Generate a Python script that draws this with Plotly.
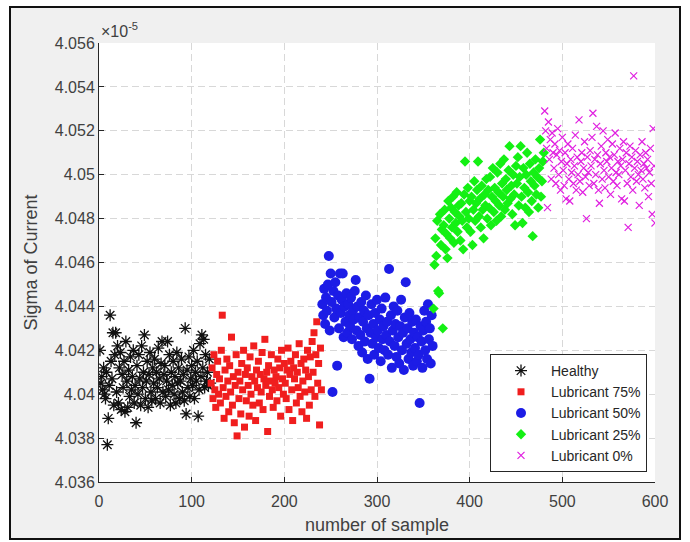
import plotly.graph_objects as go

# Sigma of motor current per sample, in units of 1e-5
healthy = [
    4.0420, 4.0405, 4.0408, 4.0402, 4.0412, 4.0400, 4.0398, 4.0410, 4.0377, 4.0389,
    4.0404, 4.0436, 4.0415, 4.0407, 4.0428, 4.0395, 4.0418, 4.0428, 4.0401, 4.0422,
    4.0396, 4.0412, 4.0419, 4.0393, 4.0409, 4.0403, 4.0415, 4.0392, 4.0424, 4.0406,
    4.0394, 4.0411, 4.0399, 4.0417, 4.0402, 4.0408, 4.0420, 4.0396, 4.0404, 4.0387,
    4.0413, 4.0400, 4.0418, 4.0407, 4.0395, 4.0422, 4.0403, 4.0410, 4.0427, 4.0398,
    4.0406, 4.0415, 4.0394, 4.0409, 4.0419, 4.0401, 4.0397, 4.0412, 4.0405, 4.0416,
    4.0398, 4.0410, 4.0403, 4.0421, 4.0407, 4.0396, 4.0414, 4.0424, 4.0401, 4.0409,
    4.0413, 4.0399, 4.0406, 4.0424, 4.0402, 4.0418, 4.0395, 4.0410, 4.0404, 4.0415,
    4.0400, 4.0408, 4.0396, 4.0419, 4.0405, 4.0412, 4.0398, 4.0406, 4.0416, 4.0401,
    4.0409, 4.0397, 4.0430, 4.0391, 4.0411, 4.0403, 4.0417, 4.0399, 4.0407, 4.0413,
    4.0404, 4.0420, 4.0398, 4.0410, 4.0406, 4.0415, 4.0390, 4.0402, 4.0423, 4.0408,
    4.0427, 4.0412, 4.0425, 4.0403, 4.0418, 4.0406, 4.0410, 4.0404, 4.0416, 4.0405,
]
lubricant_75 = [
    4.0405, 4.0412, 4.0398, 4.0418, 4.0402, 4.0394, 4.0409, 4.0415, 4.0400, 4.0407,
    4.0396, 4.0420, 4.0436, 4.0403, 4.0389, 4.0411, 4.0399, 4.0416, 4.0406, 4.0392,
    4.0413, 4.0401, 4.0426, 4.0395, 4.0408, 4.0387, 4.0404, 4.0418, 4.0381, 4.0410,
    4.0398, 4.0406, 4.0391, 4.0414, 4.0402, 4.0420, 4.0385, 4.0409, 4.0397, 4.0412,
    4.0404, 4.0390, 4.0417, 4.0400, 4.0408, 4.0395, 4.0422, 4.0406, 4.0388, 4.0411,
    4.0403, 4.0415, 4.0396, 4.0409, 4.0401, 4.0419, 4.0393, 4.0407, 4.0425, 4.0404,
    4.0410, 4.0383, 4.0413, 4.0399, 4.0406, 4.0418, 4.0402, 4.0394, 4.0411, 4.0405,
    4.0408, 4.0397, 4.0416, 4.0403, 4.0412, 4.0390, 4.0420, 4.0407, 4.0400, 4.0414,
    4.0405, 4.0398, 4.0411, 4.0421, 4.0393, 4.0409, 4.0415, 4.0402, 4.0388, 4.0412,
    4.0407, 4.0418, 4.0396, 4.0410, 4.0403, 4.0423, 4.0399, 4.0414, 4.0392, 4.0406,
    4.0416, 4.0401, 4.0411, 4.0389, 4.0420, 4.0408, 4.0395, 4.0417, 4.0402, 4.0424,
    4.0410, 4.0428, 4.0399, 4.0418, 4.0433, 4.0405, 4.0414, 4.0386, 4.0421, 4.0402,
]
lubricant_50 = [
    4.0441, 4.0436, 4.0448, 4.0432, 4.0444, 4.0438, 4.0450, 4.0463, 4.0429, 4.0455,
    4.0442, 4.0401, 4.0447, 4.0435, 4.0451, 4.0439, 4.0413, 4.0445, 4.0430, 4.0455,
    4.0437, 4.0443, 4.0455, 4.0426, 4.0440, 4.0433, 4.0446, 4.0428, 4.0441, 4.0436,
    4.0431, 4.0444, 4.0425, 4.0438, 4.0434, 4.0447, 4.0452, 4.0429, 4.0440, 4.0422,
    4.0435, 4.0427, 4.0442, 4.0419, 4.0433, 4.0438, 4.0424, 4.0445, 4.0430, 4.0416,
    4.0436, 4.0407, 4.0428, 4.0441, 4.0423, 4.0432, 4.0418, 4.0437, 4.0426, 4.0443,
    4.0429, 4.0421, 4.0434, 4.0415, 4.0439, 4.0425, 4.0431, 4.0420, 4.0444, 4.0427,
    4.0433, 4.0418, 4.0457, 4.0424, 4.0436, 4.0412, 4.0429, 4.0440, 4.0422, 4.0432,
    4.0417, 4.0438, 4.0426, 4.0414, 4.0431, 4.0443, 4.0420, 4.0428, 4.0411, 4.0435,
    4.0451, 4.0423, 4.0430, 4.0416, 4.0437, 4.0425, 4.0419, 4.0433, 4.0413, 4.0428,
    4.0421, 4.0434, 4.0415, 4.0426, 4.0418, 4.0396, 4.0431, 4.0424, 4.0412, 4.0429,
    4.0438, 4.0420, 4.0433, 4.0416, 4.0441, 4.0425, 4.0430, 4.0414, 4.0436, 4.0422,
]
lubricant_25 = [
    4.0439, 4.0459, 4.0471, 4.0463, 4.0479, 4.0447, 4.0446, 4.0482, 4.0468, 4.0475,
    4.0430, 4.0477, 4.0484, 4.0466, 4.0473, 4.0462, 4.0488, 4.0480, 4.0471, 4.0485,
    4.0476, 4.0490, 4.0469, 4.0483, 4.0478, 4.0492, 4.0474, 4.0486, 4.0481, 4.0470,
    4.0487, 4.0479, 4.0466, 4.0491, 4.0506, 4.0483, 4.0476, 4.0494, 4.0480, 4.0488,
    4.0474, 4.0490, 4.0468, 4.0484, 4.0497, 4.0479, 4.0487, 4.0493, 4.0506, 4.0481,
    4.0489, 4.0476, 4.0495, 4.0484, 4.0471, 4.0491, 4.0486, 4.0498, 4.0480, 4.0493,
    4.0485, 4.0499, 4.0477, 4.0490, 4.0503, 4.0483, 4.0494, 4.0488, 4.0479, 4.0501,
    4.0492, 4.0486, 4.0505, 4.0481, 4.0496, 4.0490, 4.0507, 4.0484, 4.0498, 4.0493,
    4.0487, 4.0502, 4.0513, 4.0489, 4.0495, 4.0482, 4.0500, 4.0491, 4.0477, 4.0504,
    4.0496, 4.0508, 4.0486, 4.0499, 4.0513, 4.0490, 4.0478, 4.0503, 4.0494, 4.0485,
    4.0500, 4.0510, 4.0492, 4.0483, 4.0505, 4.0497, 4.0488, 4.0472, 4.0501, 4.0495,
    4.0507, 4.0491, 4.0499, 4.0485, 4.0503, 4.0516, 4.0490, 4.0497, 4.0506, 4.0510,
]
lubricant_0 = [
    4.0529, 4.0520, 4.0512, 4.0485, 4.0524, 4.0507, 4.0516, 4.0498, 4.0519, 4.0510,
    4.0503, 4.0514, 4.0496, 4.0509, 4.0521, 4.0500, 4.0511, 4.0493, 4.0506, 4.0517,
    4.0502, 4.0495, 4.0510, 4.0489, 4.0505, 4.0514, 4.0498, 4.0488, 4.0507, 4.0501,
    4.0512, 4.0496, 4.0504, 4.0518, 4.0493, 4.0508, 4.0500, 4.0525, 4.0497, 4.0506,
    4.0510, 4.0492, 4.0503, 4.0515, 4.0499, 4.0480, 4.0508, 4.0501, 4.0495, 4.0511,
    4.0504, 4.0517, 4.0528, 4.0496, 4.0507, 4.0500, 4.0522, 4.0509, 4.0493, 4.0487,
    4.0505, 4.0513, 4.0498, 4.0520, 4.0502, 4.0494, 4.0510, 4.0506, 4.0516, 4.0499,
    4.0508, 4.0491, 4.0503, 4.0514, 4.0497, 4.0509, 4.0519, 4.0501, 4.0495, 4.0506,
    4.0500, 4.0512, 4.0504, 4.0489, 4.0507, 4.0515, 4.0488, 4.0502, 4.0510, 4.0496,
    4.0476, 4.0505, 4.0513, 4.0499, 4.0508, 4.0493, 4.0545, 4.0503, 4.0511, 4.0497,
    4.0506, 4.0500, 4.0486, 4.0509, 4.0502, 4.0515, 4.0498, 4.0505, 4.0494, 4.0510,
    4.0503, 4.0507, 4.0490, 4.0501, 4.0512, 4.0496, 4.0482, 4.0521, 4.0504, 4.0478,
]

series_names = ["Healthy", "Lubricant 75%", "Lubricant 50%", "Lubricant 25%", "Lubricant 0%"]
y_tick_values = [4.036, 4.038, 4.040, 4.042, 4.044, 4.046, 4.048, 4.050, 4.052, 4.054, 4.056]
y_tick_labels = ["4.036", "4.038", "4.04", "4.042", "4.044", "4.046", "4.048", "4.05", "4.052", "4.054", "4.056"]
x_tick_values = [0, 100, 200, 300, 400, 500, 600]

groups = [healthy, lubricant_75, lubricant_50, lubricant_25, lubricant_0]

# marker styles: (symbol, size, fill, line colour, line width)
styles = [
    ("asterisk-open", 10, "#111111", "#111111", 1.3),
    ("square", 7, "#f01e1e", "#f01e1e", 0),
    ("circle", 10, "#1c1ce6", "#1c1ce6", 0),
    ("diamond", 8, "#14f014", "#14f014", 0),
    ("x-thin-open", 7, "#e020e0", "#e020e0", 1.2),
]

fig = go.Figure()
start = 1
for name, values, (sym, size, fill, lcol, lw) in zip(series_names, groups, styles):
    samples = list(range(start, start + len(values)))
    start += len(values)
    fig.add_trace(go.Scatter(
        x=samples, y=values, mode="markers", name=name,
        marker=dict(symbol=sym, size=size, color=fill,
                    line=dict(color=lcol, width=lw)),
        hoverinfo="skip",
    ))

FONT = "Liberation Sans, Arial, Helvetica, sans-serif"
TXT = "#404040"
AX = "#262626"

# plot area sits at x 99..655, y 43..482 of the 690x542 page
L, R, T, B = 99, 35, 43, 60
W, H = 690, 542
pw, ph = W - L - R, H - T - B


def px_x(p):
    return (p - L) / pw


def px_y(p):
    return (H - B - p) / ph


fig.update_layout(
    width=W, height=H,
    margin=dict(l=L, r=R, t=T, b=B, pad=0),
    paper_bgcolor="white",
    plot_bgcolor="white",
    font=dict(family=FONT, size=16, color=TXT),
    showlegend=True,
    legend=dict(
        x=px_x(647), y=px_y(472), xanchor="right", yanchor="bottom",
        bgcolor="white", bordercolor="#262626", borderwidth=1,
        font=dict(family=FONT, size=14, color=AX),
        itemwidth=50, tracegroupgap=0,
    ),
    shapes=[
        # grey figure panel with its black frame
        dict(type="rect", xref="paper", yref="paper",
             x0=px_x(10), x1=px_x(680), y0=px_y(539), y1=px_y(7),
             fillcolor="#f0f0f0", line=dict(color="#111111", width=2), layer="below"),
        dict(type="rect", xref="paper", yref="paper",
             x0=0, x1=1, y0=0, y1=1,
             fillcolor="white", line=dict(width=0), layer="below"),
    ],
    annotations=[
        dict(text="×10<sup>-5</sup>", xref="paper", yref="paper",
             x=0, y=1, xanchor="left", yanchor="bottom", yshift=1,
             showarrow=False, font=dict(family=FONT, size=16, color=TXT)),
        dict(text="Sigma of Current", xref="paper", yref="paper",
             x=px_x(30), y=0.5, xanchor="center", yanchor="middle",
             textangle=-90, showarrow=False,
             font=dict(family=FONT, size=18, color=TXT)),
        dict(text="number of sample", xref="paper", yref="paper",
             x=0.5, y=px_y(525), xanchor="center", yanchor="middle",
             showarrow=False, font=dict(family=FONT, size=18, color=TXT)),
    ],
)

fig.update_xaxes(
    range=[0, 600], tickvals=x_tick_values,
    showline=True, linecolor=AX, linewidth=1,
    ticks="inside", ticklen=5, tickcolor=AX, tickwidth=1,
    showgrid=True, gridcolor="#d8d8d8", griddash="7px,4px", gridwidth=1,
    zeroline=False, tickfont=dict(size=16, color=TXT), ticklabelstandoff=5,
)
fig.update_yaxes(
    range=[4.036, 4.056], tickvals=y_tick_values, ticktext=y_tick_labels,
    showline=True, linecolor=AX, linewidth=1,
    ticks="inside", ticklen=5, tickcolor=AX, tickwidth=1,
    showgrid=True, gridcolor="#d8d8d8", griddash="7px,4px", gridwidth=1,
    zeroline=False, tickfont=dict(size=16, color=TXT),
)

fig.write_html("out.html")
